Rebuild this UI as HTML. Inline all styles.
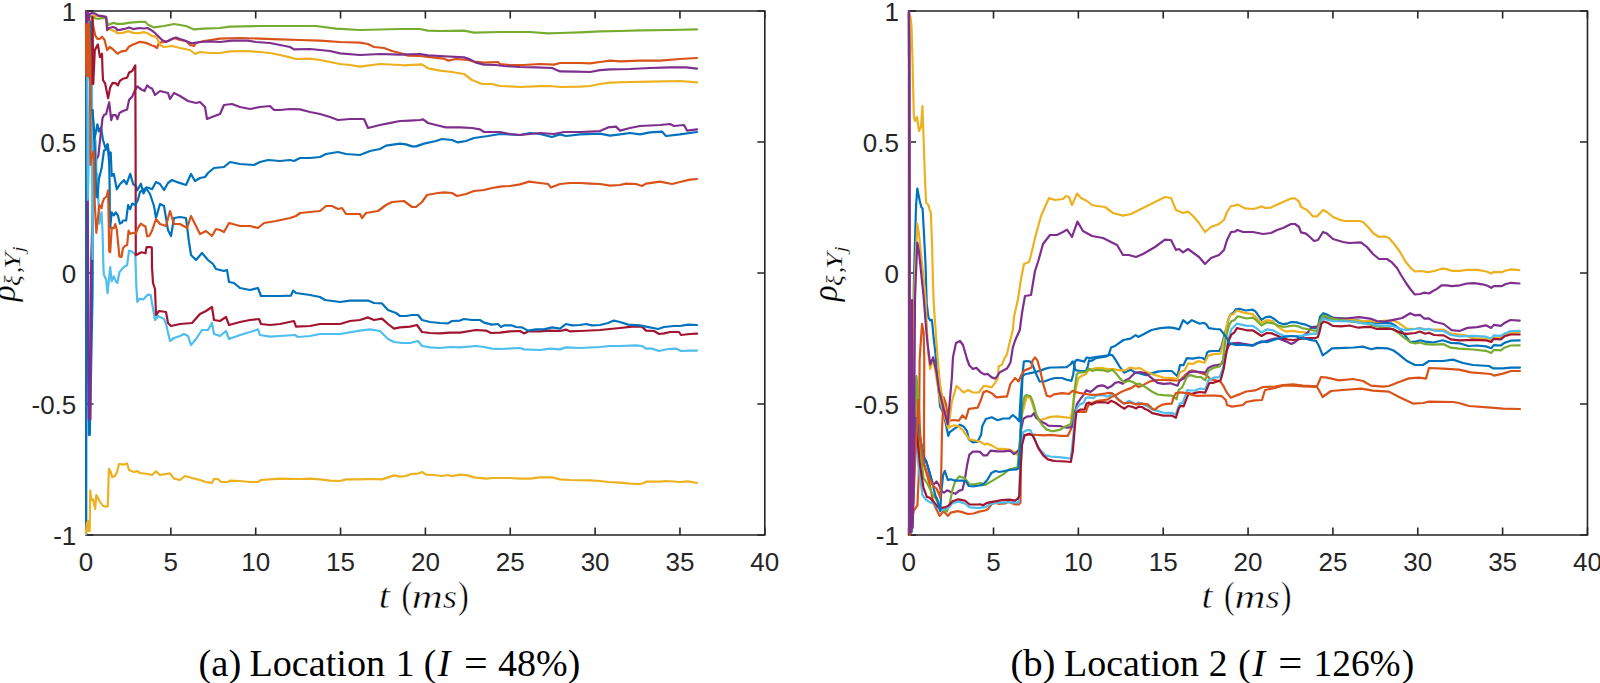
<!DOCTYPE html>
<html><head><meta charset="utf-8"><title>Correlation plots</title><style>
html,body{margin:0;padding:0;background:#fff;width:1600px;height:683px;overflow:hidden}
svg{display:block}
.cv polyline{fill:none;stroke-width:2.2;stroke-linejoin:round;stroke-linecap:round}
.ax{fill:none;stroke:#262626;stroke-width:1.6}
.tl{font-family:"Liberation Sans",Arial,sans-serif;font-size:26px;fill:#262626}
text{font-kerning:none}
.cm text{stroke:#fff;stroke-width:0.5px}
.cmy text{stroke:#fff;stroke-width:0.2px}
</style></head><body>
<svg width="1600" height="683" viewBox="0 0 1600 683">
<defs><clipPath id="cl"><rect x="84.8" y="9.8" width="681.1999999999999" height="526.4"/></clipPath><clipPath id="cr"><rect x="907.4699999999999" y="9.8" width="681.1999999999999" height="526.4"/></clipPath></defs>
<path class="ax" d="M86.0,535.0 L764.8,535.0 L764.8,11.0 L86.0,11.0 Z"/>
<path class="ax" d="M86.00,535.0 v-7.5 M86.00,11.0 v7.5 M170.85,535.0 v-7.5 M170.85,11.0 v7.5 M255.70,535.0 v-7.5 M255.70,11.0 v7.5 M340.55,535.0 v-7.5 M340.55,11.0 v7.5 M425.40,535.0 v-7.5 M425.40,11.0 v7.5 M510.25,535.0 v-7.5 M510.25,11.0 v7.5 M595.10,535.0 v-7.5 M595.10,11.0 v7.5 M679.95,535.0 v-7.5 M679.95,11.0 v7.5 M764.80,535.0 v-7.5 M764.80,11.0 v7.5 M86.0,11.00 h7.5 M764.80,11.00 h-7.5 M86.0,142.00 h7.5 M764.80,142.00 h-7.5 M86.0,273.00 h7.5 M764.80,273.00 h-7.5 M86.0,404.00 h7.5 M764.80,404.00 h-7.5 M86.0,535.00 h7.5 M764.80,535.00 h-7.5"/>
<path class="ax" d="M908.67,535.0 L1587.4699999999998,535.0 L1587.4699999999998,11.0 L908.67,11.0 Z"/>
<path class="ax" d="M908.67,535.0 v-7.5 M908.67,11.0 v7.5 M993.52,535.0 v-7.5 M993.52,11.0 v7.5 M1078.37,535.0 v-7.5 M1078.37,11.0 v7.5 M1163.22,535.0 v-7.5 M1163.22,11.0 v7.5 M1248.07,535.0 v-7.5 M1248.07,11.0 v7.5 M1332.92,535.0 v-7.5 M1332.92,11.0 v7.5 M1417.77,535.0 v-7.5 M1417.77,11.0 v7.5 M1502.62,535.0 v-7.5 M1502.62,11.0 v7.5 M1587.47,535.0 v-7.5 M1587.47,11.0 v7.5 M908.67,11.00 h7.5 M1587.47,11.00 h-7.5 M908.67,142.00 h7.5 M1587.47,142.00 h-7.5 M908.67,273.00 h7.5 M1587.47,273.00 h-7.5 M908.67,404.00 h7.5 M1587.47,404.00 h-7.5 M908.67,535.00 h7.5 M1587.47,535.00 h-7.5"/>
<g clip-path="url(#cl)" class="cv">
<polyline points="86.2,535.0 86.6,22.0 89.0,435.0 89.8,435.0 92.5,296.0 93.0,200.0 92.5,110.0 94.3,140.0 97.4,124.3 98.9,131.5 101.0,127.4 103.0,140.0 105.6,148.3 107.6,144.2 109.2,155.5 110.7,152.4 111.7,176.0 113.8,173.9 116.8,189.3 119.9,184.2 124.0,180.1 126.6,184.2 130.2,173.9 133.2,184.2 135.8,186.2 137.3,190.3 140.9,183.7 143.5,193.4 146.6,187.3 149.6,188.3 152.0,189.3 156.0,182.0 160.0,184.0 164.0,190.0 168.0,183.0 172.0,180.0 178.0,182.4 186.0,185.0 191.0,174.0 195.0,181.0 200.0,178.0 205.0,177.0 208.0,173.0 214.0,168.0 224.0,167.0 230.0,162.0 240.0,164.0 254.0,165.0 260.0,162.0 268.0,160.0 280.0,161.0 290.0,160.0 294.0,161.0 300.0,158.0 310.0,158.0 320.0,157.0 326.0,154.0 338.0,152.0 346.0,154.0 360.0,155.0 370.0,151.0 380.0,149.0 386.0,145.6 400.0,143.6 406.0,144.4 412.0,146.4 416.0,146.4 424.0,143.6 436.0,141.0 442.0,139.0 452.0,140.0 458.0,142.4 466.0,141.0 474.0,138.0 488.0,136.0 500.0,134.0 520.0,135.0 530.0,133.0 540.0,134.0 552.0,137.0 560.0,134.4 566.0,136.0 580.0,134.4 600.0,133.6 610.0,135.6 620.0,134.4 630.0,133.0 640.0,134.4 650.0,132.4 662.0,131.6 666.0,136.0 680.0,134.4 697.0,132.0" stroke="#0072BD"/>
<polyline points="85.8,23.0 86.5,70.0 87.3,23.0 88.1,76.0 88.9,23.0 89.7,80.0 90.2,40.0 91.5,25.0 92.0,16.5 92.2,16.2 93.3,26.5 95.3,35.7 97.4,38.8 99.9,38.8 102.0,36.7 104.5,39.8 107.1,50.1 109.7,47.0 112.7,49.0 117.4,53.7 120.9,51.6 126.1,50.6 129.1,46.5 133.2,44.4 139.4,41.9 143.5,42.4 147.6,43.4 152.0,45.5 154.0,46.0 157.0,48.0 159.0,42.6 164.0,42.0 168.0,41.0 174.0,38.0 180.0,40.0 186.0,41.0 190.0,45.0 194.0,46.0 196.0,43.0 204.0,41.0 220.0,38.6 240.0,38.0 260.0,38.6 280.0,39.4 300.0,40.0 320.0,40.6 340.0,42.0 360.0,42.6 368.0,44.0 374.0,47.0 384.0,48.0 392.0,51.0 400.0,53.0 408.0,55.6 420.0,56.0 432.0,57.4 444.0,58.6 448.0,60.6 456.0,59.0 468.0,60.0 474.0,61.6 484.0,62.6 498.0,62.0 500.0,64.0 510.0,65.0 524.0,65.0 540.0,64.0 554.0,64.6 560.0,63.0 580.0,63.0 590.0,63.4 600.0,62.0 610.0,60.6 620.0,61.4 640.0,60.6 660.0,60.6 680.0,59.0 697.0,58.0" stroke="#D95319"/>
<polyline points="85.8,20.0 86.5,30.0 87.3,22.0 87.1,23.4 90.2,21.4 93.3,16.2 97.4,15.7 102.5,16.2 106.1,17.3 107.6,28.5 115.8,31.6 116.8,33.2 123.0,32.9 128.1,31.1 133.2,32.9 139.4,33.2 143.5,32.1 147.6,33.2 152.0,36.2 154.0,36.0 157.0,38.0 160.0,45.0 164.0,47.0 172.0,46.0 180.0,48.0 190.0,50.0 195.0,54.0 200.0,52.0 210.0,53.0 220.0,53.0 230.0,51.4 246.0,51.0 260.0,52.0 270.0,53.0 280.0,55.0 290.0,57.4 296.0,59.0 310.0,58.6 320.0,60.0 330.0,62.0 340.0,64.0 350.0,65.0 360.0,66.6 380.0,64.0 400.0,65.0 404.0,65.4 422.0,64.4 428.0,68.4 440.0,70.6 452.0,72.0 464.0,74.0 472.0,80.0 482.0,84.0 492.0,84.0 500.0,86.0 510.0,86.4 520.0,87.0 540.0,86.2 550.0,86.0 560.0,87.0 580.0,86.6 590.0,86.0 600.0,84.0 610.0,82.6 630.0,82.0 650.0,81.6 680.0,81.0 697.0,82.4" stroke="#EDB120"/>
<polyline points="87.5,190.0 88.8,419.5 90.3,419.5 91.2,260.0 93.0,200.0 96.3,159.6 98.4,155.5 99.9,141.1 101.5,127.4 102.5,118.2 104.0,115.1 106.1,114.1 109.2,102.3 111.2,120.2 112.7,115.1 115.8,115.1 117.4,119.2 119.4,113.0 123.0,111.0 127.1,109.5 129.1,99.7 132.2,96.6 134.8,90.5 137.3,86.4 141.4,89.5 144.5,91.0 147.1,85.4 149.6,87.4 152.0,88.4 155.0,95.0 160.0,91.0 168.0,93.0 170.0,99.0 174.0,93.0 180.0,96.0 188.0,101.0 196.0,103.0 200.0,102.0 205.0,107.0 207.0,119.0 212.0,117.0 220.0,114.0 224.0,105.0 232.0,104.0 240.0,107.0 250.0,109.0 260.0,107.0 270.0,106.0 274.0,110.0 280.0,110.0 290.0,109.0 300.0,109.4 310.0,112.0 320.0,114.0 330.0,117.0 338.0,120.0 350.0,119.0 364.0,119.0 368.0,128.0 380.0,125.0 392.0,122.6 400.0,121.0 410.0,120.6 420.0,120.0 423.0,119.4 428.0,123.0 440.0,126.0 446.0,127.4 460.0,127.4 472.0,128.0 480.0,129.4 484.0,132.0 500.0,132.0 510.0,134.0 520.0,135.0 540.0,133.0 554.0,134.0 564.0,132.0 580.0,132.0 590.0,131.6 600.0,131.0 608.0,127.4 616.0,126.6 620.0,130.6 630.0,128.0 640.0,126.0 660.0,125.0 670.0,124.0 674.0,126.0 684.0,125.0 687.0,130.6 697.0,129.4" stroke="#7E2F8E"/>
<polyline points="85.8,16.0 88.0,14.0 92.2,17.3 95.3,18.3 97.4,18.8 102.5,18.1 106.1,18.1 108.1,25.0 110.7,23.9 113.8,22.9 116.8,23.9 123.0,23.9 128.1,22.9 133.2,22.4 139.4,21.9 145.5,21.9 147.6,24.4 152.0,26.5 154.0,27.4 164.0,26.0 174.0,24.0 186.0,26.0 194.0,29.4 204.0,28.6 220.0,28.0 230.0,26.6 260.0,26.0 280.0,26.0 316.0,26.0 336.0,28.6 360.0,30.0 400.0,29.0 420.0,29.0 428.0,30.6 440.0,31.0 464.0,30.6 474.0,32.6 500.0,32.0 530.0,32.0 548.0,33.4 560.0,33.0 580.0,32.4 600.0,31.4 620.0,31.0 640.0,30.4 670.0,30.0 697.0,29.4" stroke="#77AC30"/>
<polyline points="87.2,22.0 87.8,200.0 91.8,30.0 92.5,259.0 93.0,200.0 94.0,140.0 95.5,140.0 96.5,175.0 97.4,174.0 98.4,200.0 99.4,223.6 101.5,212.3 102.5,230.7 103.5,270.0 104.0,275.2 106.1,279.3 107.6,293.2 109.2,277.3 110.2,267.0 111.7,281.4 113.8,276.3 115.8,281.4 117.4,282.9 119.4,272.2 122.0,269.1 124.0,267.0 127.1,265.0 129.1,250.7 131.2,251.2 135.3,254.3 136.3,285.5 137.3,301.9 139.4,298.8 143.5,299.3 147.6,294.7 150.7,295.2 152.0,302.9 155.0,320.0 158.0,316.0 164.0,319.0 166.0,324.0 170.0,341.0 174.0,338.0 180.0,336.0 184.0,334.0 188.0,336.0 191.0,345.0 196.0,339.0 202.0,330.0 208.0,330.0 212.0,323.0 214.0,334.0 220.0,336.0 226.0,331.0 229.0,339.0 240.0,335.0 250.0,332.0 258.0,329.4 260.0,335.0 270.0,336.6 280.0,336.0 295.0,335.0 298.0,337.0 310.0,336.0 320.0,334.0 340.0,334.0 360.0,330.6 370.0,329.4 380.0,331.0 388.0,339.0 394.0,342.0 402.0,343.0 410.0,343.0 418.0,341.0 422.0,346.0 430.0,347.4 440.0,348.0 450.0,347.0 460.0,347.4 476.0,346.0 484.0,347.0 492.0,348.6 500.0,349.0 520.0,348.0 524.0,349.4 540.0,350.0 550.0,348.6 560.0,349.4 566.0,347.4 580.0,348.0 600.0,347.0 610.0,346.0 620.0,346.0 636.0,345.4 642.0,346.0 646.0,348.6 652.0,348.6 659.0,351.0 668.0,349.0 676.0,348.6 681.0,351.0 690.0,350.6 697.0,350.6" stroke="#4DBEEE"/>
<polyline points="88.0,70.0 91.3,84.0 92.5,17.0 93.3,84.0 93.6,76.0 94.8,50.1 97.9,44.4 99.9,57.2 102.0,53.7 102.5,70.0 103.0,80.2 105.1,83.3 108.1,98.2 110.2,87.4 112.7,82.8 115.8,83.3 117.9,85.4 119.9,80.8 123.0,78.7 127.1,77.7 129.1,72.6 132.2,71.0 135.3,65.4 135.6,150.0 135.8,255.3 139.4,253.3 141.4,252.3 145.5,253.3 146.6,247.1 150.2,247.1 151.8,247.5 152.0,267.0 153.0,283.0 155.0,289.0 156.0,315.0 159.0,311.0 166.0,312.0 168.0,323.0 171.0,326.0 180.0,324.0 192.0,323.0 200.0,314.0 206.0,311.0 212.0,307.0 214.0,320.0 220.0,321.0 226.0,317.0 229.0,325.0 240.0,322.0 250.0,320.0 259.0,319.0 261.0,324.0 270.0,325.0 280.0,324.0 294.0,321.0 296.0,326.6 310.0,326.0 320.0,324.0 340.0,324.0 350.0,321.0 360.0,320.0 368.0,317.4 374.0,320.0 382.0,318.6 388.0,324.0 394.0,328.6 400.0,327.4 410.0,326.6 417.0,325.0 422.0,332.0 430.0,333.0 440.0,333.4 450.0,332.6 460.0,332.6 476.0,330.0 486.0,330.6 491.0,333.0 500.0,332.6 510.0,331.4 520.0,331.0 524.0,333.4 528.0,331.4 540.0,331.4 550.0,330.6 560.0,331.0 566.0,329.6 570.0,331.4 580.0,331.0 600.0,330.0 610.0,329.0 620.0,328.0 632.0,326.6 642.0,326.6 646.0,330.6 654.0,331.0 659.0,334.0 664.0,333.4 670.0,332.0 679.0,332.0 681.0,335.0 690.0,334.0 697.0,333.6" stroke="#A2142F"/>
<polyline points="90.5,21.6 90.3,110.0 92.5,110.0 94.3,135.0 96.3,196.5 97.4,197.5 98.9,179.1 101.5,168.8 104.0,150.4 106.6,149.3 107.6,144.7 109.2,162.7 109.7,190.3 109.8,215.0 110.2,227.7 111.7,212.3 113.8,215.4 115.8,212.3 117.9,215.4 119.9,223.6 122.0,222.5 123.0,220.5 126.1,220.5 128.1,205.1 130.2,209.2 132.2,203.6 135.3,205.1 137.9,200.0 140.0,192.0 146.0,188.0 150.0,194.0 154.0,206.0 156.0,218.0 160.0,204.0 164.0,206.0 168.0,230.0 171.0,236.0 174.0,218.0 180.0,217.0 186.0,218.0 189.0,242.0 191.0,255.0 196.0,260.0 202.0,253.0 208.0,260.0 213.0,264.0 216.0,269.0 224.0,271.0 227.0,270.0 229.0,282.0 234.0,283.0 240.0,288.0 250.0,290.0 258.0,288.0 261.0,296.0 270.0,296.0 280.0,296.0 291.0,295.6 293.0,290.6 296.0,293.0 310.0,295.0 320.0,297.0 325.0,300.0 340.0,302.0 350.0,300.6 360.0,300.6 368.0,300.6 374.0,303.0 382.0,303.4 388.0,310.0 396.0,313.0 400.0,316.0 406.0,316.0 412.0,315.0 418.0,315.0 422.0,320.0 430.0,322.0 440.0,323.0 448.0,323.4 452.0,321.0 460.0,320.6 464.0,319.0 472.0,320.0 480.0,320.0 484.0,322.6 492.0,324.6 498.0,324.0 501.0,327.0 504.0,325.4 512.0,325.4 516.0,327.0 522.0,327.4 528.0,330.6 536.0,329.4 544.0,329.4 552.0,327.4 560.0,328.6 566.0,324.0 572.0,325.4 580.0,325.0 586.0,324.0 592.0,325.4 600.0,325.0 608.0,323.0 614.0,320.6 620.0,322.0 628.0,324.6 640.0,325.4 646.0,326.6 658.0,329.0 664.0,327.0 674.0,326.0 680.0,326.0 688.0,324.6 697.0,325.0" stroke="#0072BD"/>
<polyline points="85.8,24.0 86.6,76.0 87.4,23.0 88.2,76.0 89.0,24.0 90.3,60.0 90.5,165.0 91.0,160.0 92.2,155.0 93.8,151.4 94.8,205.0 96.3,232.8 97.9,218.4 99.4,205.1 101.5,208.2 102.5,202.6 104.0,198.5 106.6,196.5 108.1,190.3 108.6,215.0 109.2,251.2 110.2,252.3 111.7,227.7 113.8,228.2 115.3,224.1 116.8,229.7 119.4,256.4 121.5,256.9 123.0,248.2 125.0,246.1 127.1,245.1 128.6,230.7 130.2,233.8 133.2,232.8 135.8,233.8 137.9,228.2 140.9,223.6 143.5,225.6 145.5,226.6 147.1,236.4 149.6,235.4 152.0,230.7 156.0,219.0 160.0,224.0 166.0,226.0 170.0,211.0 174.0,224.0 180.0,224.0 187.0,228.0 191.0,216.0 196.0,226.0 200.0,234.0 206.0,231.0 212.0,236.0 216.0,229.0 220.0,230.0 224.0,232.0 229.0,223.0 240.0,226.0 250.0,226.0 258.0,228.0 264.0,223.0 276.0,221.0 290.0,218.0 296.0,216.0 300.0,213.0 310.0,212.0 320.0,211.0 326.0,206.0 332.0,206.0 338.0,209.0 342.0,208.0 346.0,214.0 360.0,214.0 362.0,218.0 366.0,213.0 378.0,211.0 386.0,205.0 392.0,202.0 404.0,201.0 412.0,207.0 416.0,207.0 422.0,202.0 427.0,195.0 438.0,193.0 444.0,192.4 452.0,193.0 457.0,196.0 466.0,194.0 474.0,191.0 484.0,190.0 492.0,188.0 502.0,186.4 510.0,186.0 520.0,184.4 529.0,181.6 540.0,183.0 548.0,184.0 551.0,187.6 560.0,184.0 570.0,183.0 580.0,183.0 590.0,183.6 600.0,184.0 610.0,185.6 620.0,185.0 626.0,183.6 636.0,184.0 642.0,186.0 646.0,183.6 660.0,181.6 672.0,184.0 680.0,182.0 690.0,179.6 697.0,179.0" stroke="#D95319"/>
<polyline points="85.8,534.2 86.9,523.2 88.0,521.0 88.6,530.9 89.7,530.9 90.2,490.3 91.3,500.2 93.0,499.1 95.2,509.0 96.3,495.2 97.4,496.9 99.6,501.3 102.9,505.7 105.6,506.8 107.8,506.2 108.9,468.8 110.6,471.6 112.2,477.1 115.0,476.0 117.2,471.6 119.0,464.0 124.0,464.6 127.0,463.4 129.0,470.0 134.0,472.0 137.0,471.0 140.0,473.0 148.0,474.0 152.0,475.0 156.0,471.4 160.0,475.0 170.0,473.4 174.0,478.6 180.0,480.0 185.0,476.0 192.0,478.0 200.0,480.0 206.0,482.0 212.0,483.0 214.0,479.0 218.0,479.0 221.0,482.0 228.0,482.0 230.0,480.6 240.0,481.0 250.0,482.0 258.0,482.0 261.0,480.0 270.0,479.4 280.0,478.6 300.0,479.0 310.0,478.6 320.0,479.4 330.0,480.6 340.0,481.0 346.0,479.4 360.0,479.4 370.0,479.0 382.0,479.4 388.0,477.4 394.0,475.4 400.0,476.6 406.0,476.0 411.0,474.0 418.0,473.6 422.0,472.0 426.0,474.6 434.0,475.0 442.0,476.0 448.0,475.0 452.0,476.2 460.0,474.6 468.0,475.4 474.0,477.4 486.0,478.6 492.0,478.0 510.0,478.0 520.0,478.6 530.0,478.6 540.0,477.4 552.0,477.4 560.0,479.4 570.0,480.0 590.0,480.4 600.0,481.0 608.0,482.0 620.0,482.6 630.0,483.6 640.0,484.0 644.0,483.0 646.0,481.6 660.0,481.6 666.0,481.0 680.0,482.0 688.0,481.4 697.0,483.0" stroke="#EDB120"/>
<polyline points="85.6,11.0 86.2,22.7 86.8,11.5 87.4,22.0 88.1,13.0 88.8,20.0 89.5,14.0 90.5,13.5 92.2,13.2 95.3,13.7 98.4,15.7 102.5,16.2 106.1,16.8 107.1,30.1 109.2,28.0 112.7,27.0 115.8,28.0 117.4,30.1 120.9,29.6 126.1,28.5 129.1,27.5 133.2,29.1 139.4,28.0 143.5,28.5 147.6,28.0 152.0,30.6 155.0,33.0 158.0,36.0 162.0,40.0 166.0,42.0 172.0,39.0 176.0,37.4 180.0,39.0 186.0,41.0 192.0,43.4 200.0,42.0 210.0,41.4 220.0,42.0 232.0,40.6 248.0,40.6 256.0,42.0 270.0,43.0 280.0,45.0 290.0,47.0 294.0,49.4 310.0,49.0 330.0,51.0 340.0,53.4 360.0,55.0 380.0,54.0 400.0,54.6 420.0,54.0 428.0,55.4 440.0,56.0 464.0,57.4 470.0,59.4 476.0,62.6 484.0,64.6 496.0,65.0 504.0,66.0 520.0,67.0 536.0,67.4 552.0,68.0 560.0,71.4 576.0,71.6 590.0,72.0 600.0,70.2 610.0,69.4 630.0,69.0 650.0,68.0 670.0,67.4 686.0,67.4 697.0,68.6" stroke="#7E2F8E"/>
</g>
<g clip-path="url(#cr)" class="cv">
<polyline points="909.0,14.0 909.8,532.0 911.7,532.0 913.0,400.0 913.8,285.0 915.0,240.1 916.1,205.0 917.3,188.5 919.6,200.3 921.4,207.3 922.6,208.5 923.7,228.4 925.5,263.5 926.7,303.4 928.4,317.5 930.2,320.4 931.9,319.8 933.7,338.5 935.4,352.6 937.5,380.0 940.1,406.5 943.6,413.5 946.6,427.6 948.3,435.9 949.5,432.3 954.2,428.8 960.0,424.7 963.5,426.4 967.1,431.1 968.8,439.4 972.9,442.3 977.6,441.7 981.1,434.7 982.3,426.1 985.9,419.0 991.7,417.3 997.6,420.2 1003.4,418.5 1009.3,418.5 1012.8,415.0 1016.3,417.9 1019.2,421.4 1020.5,400.0 1021.5,385.0 1022.2,376.8 1024.5,374.5 1029.2,373.3 1035.0,372.2 1040.9,370.4 1045.6,368.6 1050.3,367.5 1055.0,367.5 1066.7,367.2 1070.8,364.0 1072.6,361.4 1073.7,363.4 1074.9,368.6 1076.1,370.4 1080.8,371.0 1086.0,371.0 1087.8,366.3 1089.0,360.4 1091.3,361.0 1096.0,358.1 1101.8,357.2 1106.5,356.3 1110.0,354.6 1112.4,355.2 1115.9,360.4 1119.4,366.3 1124.1,372.7 1127.6,371.0 1131.1,369.8 1135.0,372.7 1140.0,373.4 1145.9,375.1 1151.7,373.4 1157.6,371.6 1163.4,371.0 1171.7,371.0 1177.5,376.3 1179.9,365.2 1183.4,365.2 1186.9,358.1 1192.8,358.7 1198.6,357.5 1202.6,358.0 1205.3,360.0 1207.0,352.7 1208.8,351.4 1213.2,351.0 1219.3,350.8 1221.5,346.6 1223.7,337.8 1226.4,328.1 1229.0,317.6 1230.8,314.1 1233.4,312.7 1236.0,309.2 1239.5,308.8 1245.7,310.5 1252.7,309.7 1255.4,311.4 1261.5,319.8 1265.9,317.1 1270.3,316.7 1274.7,319.3 1279.1,322.8 1283.5,324.2 1287.9,323.3 1291.4,322.0 1296.7,322.4 1301.1,323.7 1305.4,324.6 1309.8,326.4 1314.2,328.1 1317.8,327.7 1320.0,316.7 1323.2,313.2 1327.6,314.9 1332.8,317.6 1345.1,318.9 1355.7,319.8 1362.7,321.5 1371.5,322.4 1376.8,323.3 1384.7,322.8 1390.8,323.3 1395.2,325.5 1400.5,329.9 1404.9,335.1 1410.2,342.2 1415.4,341.7 1420.0,340.3 1425.3,341.6 1433.2,342.5 1442.8,340.3 1450.8,342.9 1459.5,343.3 1468.3,346.0 1477.1,345.5 1485.9,346.4 1491.2,348.2 1493.8,345.1 1500.8,345.5 1504.4,342.9 1510.5,340.7 1519.7,340.3" stroke="#0072BD"/>
<polyline points="909.0,14.0 909.8,535.0 913.6,511.0 917.4,505.4 918.8,475.0 919.6,360.0 922.0,323.9 923.7,332.7 924.3,360.0 924.0,430.0 924.3,465.1 926.9,475.0 929.7,484.5 931.6,494.0 933.5,503.5 936.4,509.3 939.7,515.9 943.1,511.6 945.0,512.6 947.8,515.9 950.7,512.6 955.4,511.6 958.3,511.2 962.1,512.1 967.8,514.0 973.5,513.5 979.2,511.6 985.1,510.5 988.2,508.9 991.3,504.3 995.4,502.8 998.4,503.8 1005.6,503.3 1007.7,501.8 1010.7,502.8 1014.8,504.3 1018.9,504.3 1020.5,502.8 1020.8,470.0 1021.6,443.6 1023.9,435.4 1029.2,434.3 1036.2,434.9 1044.4,435.4 1050.3,434.9 1060.5,435.9 1067.7,435.9 1070.8,429.7 1073.8,413.3 1075.4,410.8 1079.0,411.8 1085.9,411.9 1088.2,405.5 1091.7,403.1 1097.6,400.8 1103.4,400.2 1108.1,399.3 1110.5,397.3 1115.1,395.5 1121.0,392.0 1126.9,389.6 1131.6,387.9 1135.7,385.0 1138.6,387.0 1144.4,384.4 1150.0,381.4 1157.0,380.0 1163.4,379.8 1175.2,380.4 1179.9,380.4 1184.5,375.7 1189.2,371.6 1191.6,370.4 1196.3,371.6 1201.2,373.1 1206.3,375.1 1210.4,379.2 1215.5,380.3 1220.6,381.8 1223.7,386.4 1226.8,392.6 1230.9,397.7 1236.0,395.6 1241.2,393.6 1246.3,391.5 1255.0,390.4 1263.0,387.0 1275.0,386.6 1283.0,385.0 1293.0,384.4 1303.0,385.6 1317.0,386.4 1321.0,377.0 1327.0,377.6 1339.0,380.4 1353.0,379.0 1363.0,381.0 1371.0,385.6 1383.0,386.6 1389.0,386.0 1399.0,382.0 1409.0,378.4 1419.0,377.6 1426.0,378.6 1429.0,368.0 1443.0,368.6 1459.0,369.6 1471.0,372.4 1491.0,374.0 1494.0,375.6 1503.0,373.6 1511.0,371.0 1520.0,371.0" stroke="#D95319"/>
<polyline points="909.0,14.0 909.8,530.0 912.5,520.0 914.4,285.0 917.3,223.7 919.0,234.3 922.0,263.5 924.3,285.0 925.5,300.0 927.0,330.0 928.4,355.0 930.2,369.0 933.1,358.5 936.0,375.0 940.0,400.0 944.0,415.0 948.3,427.6 954.2,425.3 958.9,426.4 963.5,431.1 965.9,434.7 969.4,439.4 975.3,440.5 979.9,441.7 985.0,444.6 987.0,443.6 991.7,445.4 997.6,448.9 1003.4,448.9 1009.3,449.5 1014.0,451.8 1018.1,455.4 1020.0,440.0 1022.0,415.0 1024.5,405.0 1026.8,396.7 1030.4,397.9 1032.7,405.0 1035.0,412.0 1039.7,420.2 1045.6,418.5 1050.3,416.9 1057.4,416.4 1065.6,417.4 1070.8,418.0 1071.8,413.3 1073.8,400.0 1076.0,388.0 1078.4,378.0 1082.0,375.7 1085.4,374.5 1089.0,369.8 1096.0,368.1 1101.8,368.1 1107.7,369.2 1113.5,369.2 1119.4,370.4 1125.3,370.4 1130.0,367.5 1135.0,368.6 1140.0,368.1 1145.9,371.6 1151.7,374.0 1157.6,375.7 1163.4,377.5 1172.8,378.1 1177.5,379.2 1179.9,372.2 1184.5,370.4 1188.1,363.4 1192.8,364.0 1198.6,361.1 1204.5,362.8 1208.3,355.6 1213.5,354.1 1220.6,353.6 1222.0,348.0 1224.6,336.9 1227.2,322.8 1230.3,314.9 1233.4,314.1 1236.9,310.5 1241.3,311.9 1245.7,313.2 1252.7,314.1 1256.2,317.6 1261.5,322.8 1266.8,320.2 1272.9,321.1 1277.3,326.4 1282.6,329.9 1286.1,331.6 1292.3,330.8 1296.7,331.6 1305.4,332.5 1312.5,333.8 1317.8,333.4 1320.0,326.0 1323.2,317.6 1332.8,319.3 1353.9,320.2 1362.7,321.1 1371.5,321.1 1376.8,322.0 1384.7,320.7 1393.5,320.7 1397.9,322.4 1402.3,325.5 1406.7,328.6 1415.4,329.0 1419.8,328.1 1424.2,329.0 1430.0,329.4 1443.7,329.7 1450.8,333.7 1459.5,334.5 1465.7,335.4 1472.7,338.1 1485.9,338.5 1491.2,340.3 1493.8,337.6 1500.8,338.1 1504.4,335.4 1510.5,332.8 1519.7,332.3" stroke="#EDB120"/>
<polyline points="909.0,12.0 909.8,530.0 912.0,528.0 914.5,450.0 916.0,418.0 918.0,425.0 923.5,457.0 926.1,461.0 928.4,468.6 931.0,478.0 933.1,485.0 936.6,481.5 939.0,485.0 941.3,490.9 944.0,492.6 947.2,490.3 951.8,492.6 955.4,493.8 958.9,490.9 962.4,489.7 964.7,480.4 967.1,465.1 969.4,454.6 972.9,451.7 977.6,451.7 980.0,451.8 983.5,455.4 987.0,455.4 990.5,450.7 997.6,451.3 1003.4,451.3 1010.4,450.7 1014.0,454.2 1017.5,451.3 1019.8,448.3 1021.0,430.0 1023.3,419.0 1026.8,416.7 1031.5,416.1 1033.9,413.2 1036.2,417.9 1041.0,421.4 1045.6,423.7 1048.2,425.6 1054.0,426.0 1060.5,426.2 1066.7,427.7 1071.8,427.2 1074.9,413.3 1076.9,404.1 1080.0,399.6 1083.5,394.9 1086.4,390.2 1090.5,392.0 1094.1,389.1 1097.6,386.1 1102.3,385.3 1105.2,386.4 1107.5,388.2 1111.6,386.1 1115.1,382.9 1118.7,382.0 1122.8,383.8 1124.5,380.9 1129.2,378.5 1135.0,372.7 1140.0,372.2 1145.9,373.4 1151.7,378.1 1157.6,382.8 1163.4,383.9 1170.5,383.3 1177.5,385.7 1179.9,380.4 1184.5,378.1 1189.2,372.2 1195.0,371.5 1200.0,372.0 1205.3,372.6 1208.3,367.9 1212.4,365.9 1218.6,364.9 1221.7,363.8 1225.0,355.0 1228.8,345.4 1231.9,343.3 1238.1,342.8 1243.9,343.9 1252.7,345.3 1257.1,343.1 1261.5,342.2 1266.8,340.9 1273.8,338.7 1279.1,338.7 1283.5,340.4 1287.9,342.2 1291.4,343.9 1294.9,342.2 1298.4,339.1 1303.7,335.6 1308.1,332.1 1310.7,328.1 1314.2,326.8 1317.8,326.4 1320.0,322.0 1322.5,318.5 1332.8,318.0 1345.1,318.5 1359.2,317.1 1371.5,318.9 1376.8,321.1 1384.7,321.5 1393.5,319.8 1402.3,318.0 1410.2,313.2 1415.4,315.4 1420.0,314.8 1424.4,318.7 1428.8,318.3 1434.1,321.8 1443.7,324.0 1451.6,330.1 1459.5,331.0 1467.5,327.9 1477.1,327.1 1485.9,325.3 1491.2,327.9 1493.8,324.9 1500.8,325.8 1504.4,323.1 1510.5,320.0 1519.7,320.7" stroke="#7E2F8E"/>
<polyline points="909.0,14.0 909.8,532.0 912.5,520.0 915.5,420.0 916.5,376.0 917.5,390.0 919.0,430.0 921.0,455.0 923.5,477.8 927.8,484.5 932.6,494.0 936.4,499.7 939.3,505.4 941.2,509.3 946.9,511.6 949.7,503.5 952.6,489.3 955.4,480.7 959.2,476.4 964.0,477.9 966.8,480.7 969.7,484.5 975.4,484.0 981.1,483.1 985.0,485.0 991.7,481.1 997.6,477.6 1003.4,474.1 1009.3,469.4 1014.0,468.2 1017.5,467.6 1020.0,440.0 1022.0,410.0 1024.5,396.7 1026.8,395.0 1030.4,396.2 1032.7,401.4 1036.2,414.4 1039.7,421.4 1043.2,426.1 1046.7,429.6 1052.3,431.3 1060.5,429.7 1064.6,426.7 1070.8,424.1 1072.8,413.3 1074.0,395.0 1075.5,382.7 1076.7,374.5 1078.4,372.7 1085.4,372.2 1089.0,368.6 1092.5,371.0 1096.0,369.8 1104.2,370.4 1107.7,371.6 1112.4,369.8 1115.9,373.3 1120.6,379.2 1124.5,382.6 1128.6,380.6 1132.7,382.0 1135.7,383.8 1140.0,383.9 1145.9,387.4 1151.7,391.5 1157.6,394.5 1163.4,395.1 1171.7,395.7 1176.6,399.2 1178.7,389.8 1182.2,387.4 1186.9,376.9 1190.4,375.1 1196.3,376.9 1201.2,377.2 1205.3,380.3 1208.3,371.0 1213.5,367.9 1219.6,366.4 1222.7,360.8 1225.5,339.5 1229.0,325.5 1231.6,321.1 1234.3,320.2 1237.8,316.3 1241.3,317.1 1246.6,318.5 1252.7,317.6 1256.2,320.2 1261.5,325.5 1266.8,322.4 1272.9,323.3 1279.1,325.9 1283.5,326.8 1287.9,326.4 1293.1,325.5 1298.4,326.4 1301.9,328.1 1307.2,329.0 1312.5,330.3 1316.9,330.8 1320.0,321.1 1323.2,315.4 1332.8,318.9 1345.1,320.7 1362.7,322.8 1371.5,325.0 1376.8,326.4 1392.6,329.0 1397.9,332.5 1403.2,336.9 1410.2,342.2 1415.4,343.5 1420.0,342.5 1425.3,344.2 1433.2,344.6 1443.7,344.2 1450.8,347.7 1459.5,348.6 1472.7,349.5 1485.9,350.8 1491.2,353.0 1493.8,349.9 1500.8,350.4 1504.4,347.7 1510.5,345.5 1519.7,345.3" stroke="#77AC30"/>
<polyline points="909.0,14.0 909.8,532.0 912.0,525.0 914.5,440.0 915.3,420.5 918.0,460.0 922.4,495.0 925.9,499.7 929.7,502.1 933.5,503.5 937.4,507.4 941.2,510.2 945.0,509.3 948.8,507.4 952.6,503.1 958.3,501.6 964.9,503.5 969.7,507.4 977.3,507.8 980.0,507.9 986.1,506.9 990.2,503.8 995.4,502.8 1005.6,502.3 1010.7,502.3 1018.9,502.3 1020.0,470.0 1021.5,445.0 1023.3,431.9 1026.8,430.2 1030.4,430.2 1033.9,437.8 1037.4,446.0 1040.9,450.7 1045.6,455.4 1050.3,456.5 1055.4,456.9 1065.6,457.9 1070.8,458.5 1072.8,441.0 1074.9,416.4 1076.9,408.2 1080.0,404.1 1083.5,403.1 1085.9,397.8 1088.8,397.3 1093.5,398.1 1096.4,395.5 1103.4,395.5 1108.1,396.7 1111.0,394.6 1113.4,394.6 1116.3,397.3 1121.0,401.4 1124.5,403.7 1128.6,400.8 1132.7,402.5 1135.7,404.3 1138.6,402.5 1142.0,403.6 1145.1,405.4 1147.7,406.4 1152.3,409.7 1157.9,411.0 1163.1,412.6 1171.8,412.8 1175.9,414.6 1177.9,408.0 1180.0,403.3 1182.6,403.1 1184.6,397.7 1187.2,390.0 1189.2,390.4 1195.0,390.5 1200.1,388.5 1205.3,389.5 1208.3,380.3 1213.5,377.7 1219.6,377.2 1222.7,369.0 1225.8,355.6 1228.1,339.5 1231.6,329.0 1236.9,323.7 1241.3,324.6 1246.6,325.9 1252.7,325.9 1256.2,328.1 1261.5,332.5 1266.8,329.4 1272.9,330.3 1279.1,333.8 1283.5,335.6 1287.9,336.0 1296.7,336.0 1301.9,335.6 1307.2,334.7 1312.5,333.8 1317.8,333.4 1320.0,326.4 1323.2,318.5 1332.8,321.1 1353.9,321.5 1362.7,323.3 1371.5,323.7 1376.8,325.5 1392.6,325.9 1397.9,328.1 1402.3,329.4 1406.7,329.9 1415.4,329.0 1419.8,328.1 1424.4,329.7 1428.8,328.8 1434.1,330.6 1443.7,331.0 1450.8,335.0 1459.5,336.3 1472.7,335.9 1485.9,336.7 1491.2,338.5 1493.8,335.4 1500.8,335.9 1504.4,333.7 1510.5,331.0 1519.7,330.9" stroke="#4DBEEE"/>
<polyline points="909.0,14.0 909.8,532.0 912.5,520.0 915.3,419.4 917.5,440.0 920.0,465.0 923.5,488.0 926.9,496.9 929.7,497.8 933.5,501.6 937.4,506.4 941.2,507.8 945.0,507.4 948.8,505.4 952.6,501.2 958.3,499.3 964.9,500.7 969.7,504.5 977.3,504.5 980.0,504.3 983.1,505.3 987.2,502.8 992.3,501.8 996.4,501.2 1001.5,500.2 1009.7,499.7 1014.8,500.7 1017.9,498.7 1019.4,495.6 1020.5,470.0 1022.0,445.0 1024.5,435.4 1029.2,433.7 1032.7,435.4 1035.0,440.1 1038.5,448.3 1043.2,455.4 1047.9,459.4 1052.6,460.6 1055.4,461.0 1065.6,461.5 1070.8,462.0 1072.8,451.3 1075.4,420.5 1076.4,412.3 1079.0,410.3 1080.0,409.6 1084.7,409.3 1086.4,403.7 1088.8,402.5 1091.7,404.6 1095.8,402.5 1100.5,402.2 1106.4,402.5 1108.1,403.1 1111.0,400.8 1115.1,402.5 1121.0,406.6 1124.5,408.7 1128.0,406.0 1132.7,406.9 1136.2,408.4 1138.6,406.6 1142.0,407.0 1145.1,409.0 1147.7,410.0 1152.3,413.1 1157.9,414.4 1163.1,415.6 1171.8,415.6 1175.9,417.7 1179.0,407.9 1180.5,405.9 1183.6,406.4 1186.2,399.7 1188.7,393.1 1191.3,394.1 1196.4,392.6 1200.1,392.0 1205.3,392.6 1209.4,382.8 1213.5,382.8 1220.6,380.3 1223.7,369.0 1225.8,355.6 1228.8,340.3 1231.6,334.3 1234.3,332.5 1236.9,328.1 1241.3,329.0 1246.6,330.3 1252.7,330.3 1256.2,332.5 1261.5,336.0 1266.8,333.0 1272.1,333.4 1279.1,336.5 1283.5,338.7 1287.9,339.5 1293.1,340.0 1296.7,339.5 1301.9,338.7 1307.2,338.2 1314.2,338.2 1317.8,337.3 1319.5,332.0 1321.4,323.7 1324.1,321.5 1327.6,322.8 1332.8,325.9 1340.8,326.4 1349.5,325.5 1358.3,327.7 1367.1,326.8 1371.5,327.2 1376.8,329.0 1389.1,328.6 1393.5,329.4 1397.9,331.6 1403.2,333.4 1406.7,333.8 1415.4,333.0 1420.0,331.5 1425.3,333.7 1428.8,332.8 1434.1,335.0 1443.7,335.4 1450.8,339.4 1459.5,340.3 1472.7,339.8 1485.9,340.3 1491.2,342.0 1493.8,338.9 1500.8,339.4 1504.4,336.3 1510.5,334.5 1519.7,334.5" stroke="#A2142F"/>
<polyline points="909.0,14.0 909.8,532.0 912.0,528.0 914.5,450.0 916.0,418.0 918.0,425.0 923.5,457.0 926.1,461.0 928.4,468.6 930.8,476.8 933.1,486.2 935.4,495.6 937.4,499.7 940.2,511.2 941.2,494.0 943.1,475.0 944.8,471.0 947.8,479.8 950.7,479.3 955.4,480.7 962.1,480.7 965.9,481.2 968.7,486.0 973.5,486.4 979.2,485.5 982.9,484.8 987.1,480.2 991.3,473.1 995.4,471.0 999.5,472.0 1004.6,471.0 1008.7,470.0 1016.3,469.4 1018.6,468.2 1020.5,440.0 1021.5,400.0 1022.7,372.2 1023.9,361.6 1026.8,361.0 1030.4,361.6 1032.7,365.1 1035.0,371.0 1037.4,376.8 1039.7,381.5 1044.4,381.5 1050.3,379.2 1055.0,378.0 1062.0,378.0 1066.7,379.8 1071.4,380.9 1073.2,374.5 1074.9,361.6 1076.7,359.9 1079.6,360.4 1084.3,361.6 1086.6,357.5 1090.1,358.1 1095.3,357.1 1103.2,356.2 1108.5,355.4 1111.1,347.5 1115.5,345.7 1123.4,340.0 1130.4,338.7 1135.7,335.1 1138.3,336.9 1144.5,333.8 1151.5,330.0 1160.3,328.1 1169.1,327.4 1174.4,328.1 1179.2,329.4 1183.1,320.2 1187.5,323.7 1191.9,320.2 1199.8,323.7 1203.5,322.8 1206.2,324.2 1208.8,328.1 1214.9,329.0 1220.2,329.4 1223.7,333.8 1227.2,338.7 1229.9,343.5 1235.1,344.8 1243.9,344.8 1252.7,345.7 1256.2,343.9 1261.5,341.3 1266.8,342.2 1272.1,340.4 1279.1,338.2 1284.4,336.9 1291.4,336.0 1296.7,336.5 1299.3,337.8 1305.4,338.7 1312.5,340.4 1316.2,340.9 1318.8,345.7 1322.7,355.4 1327.6,351.8 1332.0,348.3 1345.1,347.9 1353.9,347.5 1362.7,346.6 1371.5,349.2 1376.8,347.9 1387.3,348.3 1393.5,350.5 1397.9,353.6 1404.9,359.3 1407.0,361.0 1415.0,365.0 1423.0,365.0 1429.0,361.0 1443.0,361.0 1453.0,359.6 1463.0,363.0 1473.0,365.0 1489.0,366.0 1493.0,368.4 1503.0,368.4 1511.0,367.6 1520.0,367.6" stroke="#0072BD"/>
<polyline points="909.0,14.0 909.8,533.0 912.5,525.0 916.0,440.0 918.5,400.0 920.5,440.0 924.0,465.0 929.6,479.2 933.5,486.4 936.4,488.3 939.3,495.0 940.2,497.8 941.2,475.0 942.0,430.0 943.6,397.2 946.0,404.2 948.3,420.6 949.5,420.6 954.2,420.0 958.9,420.6 962.4,415.3 965.9,418.8 968.8,408.9 972.9,408.3 977.6,407.7 981.1,399.5 983.5,392.1 987.0,390.9 991.7,393.2 996.4,397.3 1003.4,396.7 1006.9,396.7 1010.4,383.9 1015.1,378.0 1018.6,381.5 1021.0,375.7 1024.5,370.4 1029.2,368.6 1031.5,367.5 1032.7,360.4 1035.0,357.5 1037.4,360.4 1039.7,368.6 1043.2,383.9 1046.7,395.6 1050.3,396.7 1053.8,394.4 1062.0,393.2 1069.0,393.8 1072.6,390.9 1076.1,392.1 1080.8,393.2 1085.9,394.0 1091.7,394.9 1097.6,394.6 1104.6,393.7 1108.1,392.9 1112.2,393.2 1115.1,396.1 1118.1,399.6 1123.9,403.7 1129.8,402.5 1135.7,404.3 1141.5,403.7 1147.7,404.4 1152.8,409.0 1155.4,409.5 1158.0,406.9 1162.6,404.6 1166.7,403.8 1171.8,403.6 1173.8,396.7 1175.9,393.1 1181.0,392.3 1186.2,393.1 1191.3,394.6 1196.4,395.9 1205.3,395.6 1215.5,395.6 1221.7,396.2 1225.8,400.0 1227.0,405.0 1232.0,406.6 1243.0,405.0 1246.0,402.0 1255.0,400.4 1262.0,400.0 1265.0,390.0 1275.0,388.0 1283.0,385.6 1293.0,385.6 1303.0,386.4 1317.0,387.0 1320.0,392.0 1322.6,397.0 1331.0,391.0 1343.0,390.0 1361.0,388.6 1373.0,390.6 1389.0,391.6 1399.0,397.0 1413.0,403.6 1423.0,403.0 1429.0,401.6 1453.0,402.0 1459.0,403.0 1469.0,406.0 1491.0,407.6 1503.0,408.6 1520.0,409.0" stroke="#D95319"/>
<polyline points="909.5,14.0 910.5,17.0 911.5,26.0 912.5,60.0 913.8,116.0 915.0,121.0 917.0,117.0 919.0,131.0 921.0,127.0 922.4,106.0 923.7,141.7 924.9,176.8 926.1,202.6 928.4,205.0 929.6,209.7 930.8,212.0 931.9,240.1 933.1,285.0 933.7,303.4 935.4,326.8 936.6,344.4 937.8,360.0 940.1,384.3 943.6,404.2 947.2,425.3 948.3,427.6 949.5,420.6 951.8,401.8 956.5,386.0 960.0,389.0 963.5,392.5 968.2,390.1 972.9,392.5 978.8,392.5 983.5,386.2 987.0,386.2 991.7,387.4 995.2,382.7 997.6,379.0 998.7,366.3 1001.7,365.1 1004.6,358.1 1006.9,354.6 1009.3,344.0 1012.8,330.0 1014.0,317.0 1018.0,299.0 1021.0,279.0 1024.0,264.0 1029.0,262.0 1031.0,255.0 1035.0,238.0 1041.0,216.0 1049.0,198.0 1055.0,200.0 1063.0,199.0 1066.0,196.0 1069.0,197.0 1072.0,205.0 1077.0,193.6 1081.0,198.0 1087.0,201.0 1092.0,205.0 1097.0,206.0 1105.0,207.0 1113.0,213.0 1123.0,215.6 1131.0,214.0 1139.0,210.0 1149.0,205.0 1159.0,200.0 1165.0,197.0 1171.0,198.0 1176.0,210.0 1183.0,213.0 1188.0,211.6 1193.0,216.0 1199.0,223.0 1205.0,232.0 1211.0,227.0 1219.0,224.0 1224.0,220.0 1227.0,212.0 1231.0,206.0 1235.0,205.6 1237.4,204.4 1245.0,208.4 1253.0,209.0 1257.0,208.0 1262.0,206.4 1265.0,208.0 1271.0,207.6 1275.0,205.6 1283.0,202.0 1291.0,198.4 1295.0,198.4 1299.0,201.6 1301.0,207.0 1307.0,210.0 1313.0,216.4 1317.0,216.4 1323.0,210.0 1327.0,212.0 1333.0,217.0 1339.0,219.6 1345.0,221.0 1359.0,221.0 1363.0,222.0 1369.0,228.0 1373.0,233.0 1379.0,237.0 1385.0,236.4 1389.0,238.0 1395.0,245.0 1400.0,252.0 1405.6,261.8 1410.7,267.9 1414.8,271.5 1421.0,271.0 1428.0,272.2 1434.3,271.0 1441.5,268.7 1445.6,268.9 1451.7,270.8 1459.9,270.8 1467.0,269.8 1477.3,269.8 1486.6,271.5 1491.2,273.5 1493.7,271.8 1501.9,272.2 1505.0,270.8 1511.1,269.4 1519.3,270.2" stroke="#EDB120"/>
<polyline points="909.0,11.0 909.4,530.0 910.6,533.0 912.0,300.0 912.6,528.0 913.8,480.0 915.0,300.0 915.5,285.0 917.3,242.5 919.0,251.8 921.4,275.3 922.6,287.0 923.7,297.6 925.5,321.0 927.2,340.9 930.2,364.4 933.1,357.3 936.6,372.6 939.0,390.1 942.5,404.2 947.7,424.1 949.5,404.2 951.8,378.4 953.0,357.0 956.0,343.0 960.0,341.0 963.0,345.0 967.0,359.0 969.4,365.5 972.9,369.0 976.4,367.9 981.1,372.6 984.7,374.5 987.6,373.9 991.7,377.4 995.2,378.6 997.6,375.7 999.9,372.2 1006.9,368.6 1010.4,362.8 1012.8,347.6 1015.1,340.5 1019.8,330.0 1022.0,313.0 1025.0,296.0 1031.0,295.0 1035.0,271.0 1038.0,262.0 1043.0,244.0 1050.0,235.0 1057.0,235.0 1063.0,232.0 1067.0,229.6 1072.0,237.0 1077.4,221.6 1083.0,231.0 1092.0,236.0 1103.0,238.0 1111.0,242.0 1117.0,245.0 1123.0,255.0 1129.0,255.0 1136.0,257.0 1143.0,254.0 1155.0,247.0 1165.0,239.6 1171.0,240.0 1176.0,250.0 1179.0,249.0 1183.0,252.4 1188.0,249.0 1199.0,257.0 1205.0,264.0 1211.0,258.0 1219.0,255.0 1224.0,250.0 1227.0,240.0 1231.0,232.0 1235.0,231.6 1237.4,230.0 1243.0,232.0 1253.0,232.0 1263.0,234.0 1271.0,233.0 1277.0,230.0 1283.0,228.0 1291.0,224.0 1295.0,224.0 1299.0,227.0 1301.0,232.4 1306.0,233.6 1311.0,238.0 1314.0,241.0 1318.0,240.0 1323.0,232.0 1327.0,233.6 1333.0,239.0 1343.0,242.0 1349.0,243.0 1361.0,242.4 1367.0,247.0 1373.0,254.0 1379.0,259.0 1387.0,259.0 1392.0,262.4 1397.0,268.0 1401.0,275.0 1406.0,283.0 1411.0,290.0 1414.8,294.5 1420.0,294.0 1424.0,292.7 1429.0,293.5 1433.0,291.0 1437.0,288.9 1441.5,285.3 1446.6,285.3 1451.7,286.1 1460.0,285.3 1467.0,283.5 1474.0,283.1 1482.5,284.3 1487.6,285.8 1491.2,287.9 1493.7,286.1 1501.9,286.1 1505.0,284.3 1511.1,282.8 1519.5,283.5" stroke="#7E2F8E"/>
</g>
<text class="tl" x="86.00" y="570.5" text-anchor="middle">0</text>
<text class="tl" x="170.85" y="570.5" text-anchor="middle">5</text>
<text class="tl" x="255.70" y="570.5" text-anchor="middle">10</text>
<text class="tl" x="340.55" y="570.5" text-anchor="middle">15</text>
<text class="tl" x="425.40" y="570.5" text-anchor="middle">20</text>
<text class="tl" x="510.25" y="570.5" text-anchor="middle">25</text>
<text class="tl" x="595.10" y="570.5" text-anchor="middle">30</text>
<text class="tl" x="679.95" y="570.5" text-anchor="middle">35</text>
<text class="tl" x="764.80" y="570.5" text-anchor="middle">40</text>
<text class="tl" x="76.30" y="21.10" text-anchor="end">1</text>
<text class="tl" x="76.30" y="152.10" text-anchor="end">0.5</text>
<text class="tl" x="76.30" y="283.10" text-anchor="end">0</text>
<text class="tl" x="76.30" y="414.10" text-anchor="end">-0.5</text>
<text class="tl" x="76.30" y="545.10" text-anchor="end">-1</text>
<text class="tl" x="908.67" y="570.5" text-anchor="middle">0</text>
<text class="tl" x="993.52" y="570.5" text-anchor="middle">5</text>
<text class="tl" x="1078.37" y="570.5" text-anchor="middle">10</text>
<text class="tl" x="1163.22" y="570.5" text-anchor="middle">15</text>
<text class="tl" x="1248.07" y="570.5" text-anchor="middle">20</text>
<text class="tl" x="1332.92" y="570.5" text-anchor="middle">25</text>
<text class="tl" x="1417.77" y="570.5" text-anchor="middle">30</text>
<text class="tl" x="1502.62" y="570.5" text-anchor="middle">35</text>
<text class="tl" x="1587.47" y="570.5" text-anchor="middle">40</text>
<text class="tl" x="898.97" y="21.10" text-anchor="end">1</text>
<text class="tl" x="898.97" y="152.10" text-anchor="end">0.5</text>
<text class="tl" x="898.97" y="283.10" text-anchor="end">0</text>
<text class="tl" x="898.97" y="414.10" text-anchor="end">-0.5</text>
<text class="tl" x="898.97" y="545.10" text-anchor="end">-1</text>
<g class="cm">
<text x="378.83" y="607.70" font-family="Liberation Serif, serif" font-style="italic" font-size="36" textLength="11.16" lengthAdjust="spacingAndGlyphs">t</text>
<text x="401.40" y="608.20" font-family="Liberation Serif, serif" font-style="normal" font-size="37.3" textLength="10.63" lengthAdjust="spacingAndGlyphs">(</text>
<text x="411.75" y="607.70" font-family="Liberation Serif, serif" font-style="italic" font-size="33" textLength="31.06" lengthAdjust="spacingAndGlyphs">m</text>
<text x="442.85" y="607.70" font-family="Liberation Serif, serif" font-style="italic" font-size="33" textLength="14.26" lengthAdjust="spacingAndGlyphs">s</text>
<text x="457.96" y="608.20" font-family="Liberation Serif, serif" font-style="normal" font-size="37.3" textLength="10.76" lengthAdjust="spacingAndGlyphs">)</text>
</g>
<g class="cmy" transform="translate(14.50,302.00) rotate(-90)"><text x="0.84" y="0.00" font-family="Liberation Serif, serif" font-style="italic" font-size="35" textLength="15.96" lengthAdjust="spacingAndGlyphs">ρ</text><text x="16.06" y="5.20" font-family="Liberation Serif, serif" font-style="italic" font-size="24" textLength="10.55" lengthAdjust="spacingAndGlyphs">ξ</text><text x="29.09" y="5.20" font-family="Liberation Serif, serif" font-style="normal" font-size="24">,</text><text x="33.10" y="5.50" font-family="Liberation Serif, serif" font-style="italic" font-size="24" textLength="16.56" lengthAdjust="spacingAndGlyphs">Y</text><text x="49.88" y="9.30" font-family="Liberation Serif, serif" font-style="italic" font-size="17" textLength="5.94" lengthAdjust="spacingAndGlyphs">j</text></g>
<g class="cm">
<text x="1201.50" y="607.70" font-family="Liberation Serif, serif" font-style="italic" font-size="36" textLength="11.16" lengthAdjust="spacingAndGlyphs">t</text>
<text x="1224.07" y="608.20" font-family="Liberation Serif, serif" font-style="normal" font-size="37.3" textLength="10.63" lengthAdjust="spacingAndGlyphs">(</text>
<text x="1234.42" y="607.70" font-family="Liberation Serif, serif" font-style="italic" font-size="33" textLength="31.06" lengthAdjust="spacingAndGlyphs">m</text>
<text x="1265.52" y="607.70" font-family="Liberation Serif, serif" font-style="italic" font-size="33" textLength="14.26" lengthAdjust="spacingAndGlyphs">s</text>
<text x="1280.63" y="608.20" font-family="Liberation Serif, serif" font-style="normal" font-size="37.3" textLength="10.76" lengthAdjust="spacingAndGlyphs">)</text>
</g>
<g class="cmy" transform="translate(836.57,302.00) rotate(-90)"><text x="0.84" y="0.00" font-family="Liberation Serif, serif" font-style="italic" font-size="35" textLength="15.96" lengthAdjust="spacingAndGlyphs">ρ</text><text x="16.06" y="5.20" font-family="Liberation Serif, serif" font-style="italic" font-size="24" textLength="10.55" lengthAdjust="spacingAndGlyphs">ξ</text><text x="29.09" y="5.20" font-family="Liberation Serif, serif" font-style="normal" font-size="24">,</text><text x="33.10" y="5.50" font-family="Liberation Serif, serif" font-style="italic" font-size="24" textLength="16.56" lengthAdjust="spacingAndGlyphs">Y</text><text x="49.88" y="9.30" font-family="Liberation Serif, serif" font-style="italic" font-size="17" textLength="5.94" lengthAdjust="spacingAndGlyphs">j</text></g>
<text x="198.51" y="676.10" font-family="Liberation Serif, serif" font-style="normal" font-size="37.6" textLength="42.79" lengthAdjust="spacingAndGlyphs">(a)</text>
<text x="249.50" y="676.10" font-family="Liberation Serif, serif" font-style="normal" font-size="37.6" textLength="135.58" lengthAdjust="spacingAndGlyphs">Location</text>
<text x="395.70" y="676.10" font-family="Liberation Serif, serif" font-style="normal" font-size="37.6">1</text>
<text x="423.65" y="676.10" font-family="Liberation Serif, serif" font-style="normal" font-size="37.6">(</text>
<text x="437.85" y="676.10" font-family="Liberation Serif, serif" font-style="italic" font-size="37.6">I</text>
<text x="463.90" y="676.10" font-family="Liberation Serif, serif" font-style="normal" font-size="37.6" textLength="23.75" lengthAdjust="spacingAndGlyphs">=</text>
<text x="498.06" y="676.10" font-family="Liberation Serif, serif" font-style="normal" font-size="37.6" textLength="69.64" lengthAdjust="spacingAndGlyphs">48%</text>
<text x="567.79" y="676.10" font-family="Liberation Serif, serif" font-style="normal" font-size="37.6">)</text>
<text x="1010.40" y="676.10" font-family="Liberation Serif, serif" font-style="normal" font-size="37.6" textLength="45.10" lengthAdjust="spacingAndGlyphs">(b)</text>
<text x="1064.11" y="676.10" font-family="Liberation Serif, serif" font-style="normal" font-size="37.6" textLength="134.87" lengthAdjust="spacingAndGlyphs">Location</text>
<text x="1208.65" y="676.10" font-family="Liberation Serif, serif" font-style="normal" font-size="37.6">2</text>
<text x="1238.25" y="676.10" font-family="Liberation Serif, serif" font-style="normal" font-size="37.6">(</text>
<text x="1252.45" y="676.10" font-family="Liberation Serif, serif" font-style="italic" font-size="37.6">I</text>
<text x="1278.37" y="676.10" font-family="Liberation Serif, serif" font-style="normal" font-size="37.6" textLength="24.12" lengthAdjust="spacingAndGlyphs">=</text>
<text x="1313.62" y="676.10" font-family="Liberation Serif, serif" font-style="normal" font-size="37.6" textLength="87.05" lengthAdjust="spacingAndGlyphs">126%</text>
<text x="1401.69" y="676.10" font-family="Liberation Serif, serif" font-style="normal" font-size="37.6">)</text>
</svg>
</body></html>
